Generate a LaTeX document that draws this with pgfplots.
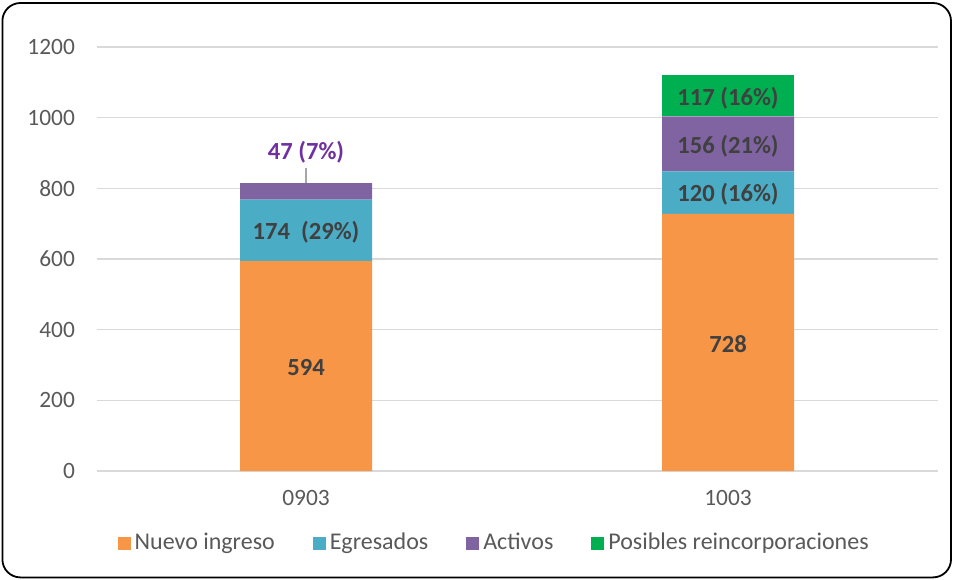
\documentclass[border=0pt]{standalone}
\usepackage{fontspec}
\setmainfont{Carlito}
\usepackage{pgfplots}
\pgfplotsset{compat=1.18}
\definecolor{cOrange}{HTML}{F79646}
\definecolor{cBlue}{HTML}{4BACC6}
\definecolor{cPurple}{HTML}{8064A2}
\definecolor{cGreen}{HTML}{00B050}
\definecolor{lblPurple}{HTML}{7030A0}
\definecolor{txtGray}{HTML}{595959}
\definecolor{lblGray}{HTML}{404040}
\definecolor{gridGray}{HTML}{D9D9D9}
\tikzset{lbl/.style={font=\bfseries\fontsize{12.3}{14}\selectfont, text=lblGray}}
\pgfplotsset{sqlegend/.style={legend image code/.code={\fill[##1, draw=none] (0pt,-3.25pt) rectangle (6.5pt,3.25pt);}}}
\begin{document}
\begin{tikzpicture}
\useasboundingbox (0pt,0pt) rectangle (477pt,289.5pt);
\draw[black, line width=0.9pt, rounded corners=9pt] (1.2pt,0.8pt) rectangle (475.5pt,288pt);
\begin{axis}[
  at={(48.5pt,54pt)}, anchor=south west,
  scale only axis, width=420.5pt, height=212pt,
  xmin=-0.4953, xmax=1.4976, ymin=0, ymax=1200,
  ybar stacked, bar width=66pt,
  ytick={0,200,...,1200},
  xtick={0,1}, xticklabels={0903,1003},
  ymajorgrids, grid style={draw=gridGray, line width=0.8pt},
  axis line style={draw=none},
  tick style={draw=none},
  ticklabel style={font=\fontsize{11.7}{13}\selectfont, text=txtGray},
  yticklabel style={xshift=-7.5pt},
  xticklabel style={yshift=-6pt},
  /pgf/number format/assume math mode=true,
  /pgf/number format/1000 sep={},
  legend style={at={(axis description cs:0.4735,-0.17)}, anchor=center, draw=none,
    font=\fontsize{12}{14}\selectfont, text=txtGray,
    /tikz/every even column/.append style={column sep=17pt}},
  legend columns=4,
  sqlegend,
]
\addplot[fill=cOrange, draw=none] coordinates {(0,594) (1,728)};
\addplot[fill=cBlue, draw=none] coordinates {(0,174) (1,120)};
\addplot[fill=cPurple, draw=none] coordinates {(0,47) (1,156)};
\addplot[fill=cGreen, draw=none] coordinates {(0,0) (1,117)};
\legend{Nuevo ingreso, Egresados, Activos, Posibles reincorporaciones}
\coordinate (L1a) at (axis cs:0,815);
\coordinate (L1b) at (axis cs:0,858);
\coordinate (A1) at (axis cs:0,294);
\coordinate (A2) at (axis cs:0,676);
\coordinate (A3) at (axis cs:0,903);
\coordinate (B1) at (axis cs:1,360);
\coordinate (B2) at (axis cs:1,784);
\coordinate (B3) at (axis cs:1,920);
\coordinate (B4) at (axis cs:1,1056);
\end{axis}
\draw[gray!70, line width=0.8pt] (L1a) -- (L1b);
\node[lbl] at (A1) {594};
\node[lbl] at (A2) {174\ \ (29\%)};
\node[lbl, text=lblPurple] at (A3) {47 (7\%)};
\node[lbl] at (B1) {728};
\node[lbl] at (B2) {120 (16\%)};
\node[lbl] at (B3) {156 (21\%)};
\node[lbl] at (B4) {117 (16\%)};
\end{tikzpicture}
\end{document}
